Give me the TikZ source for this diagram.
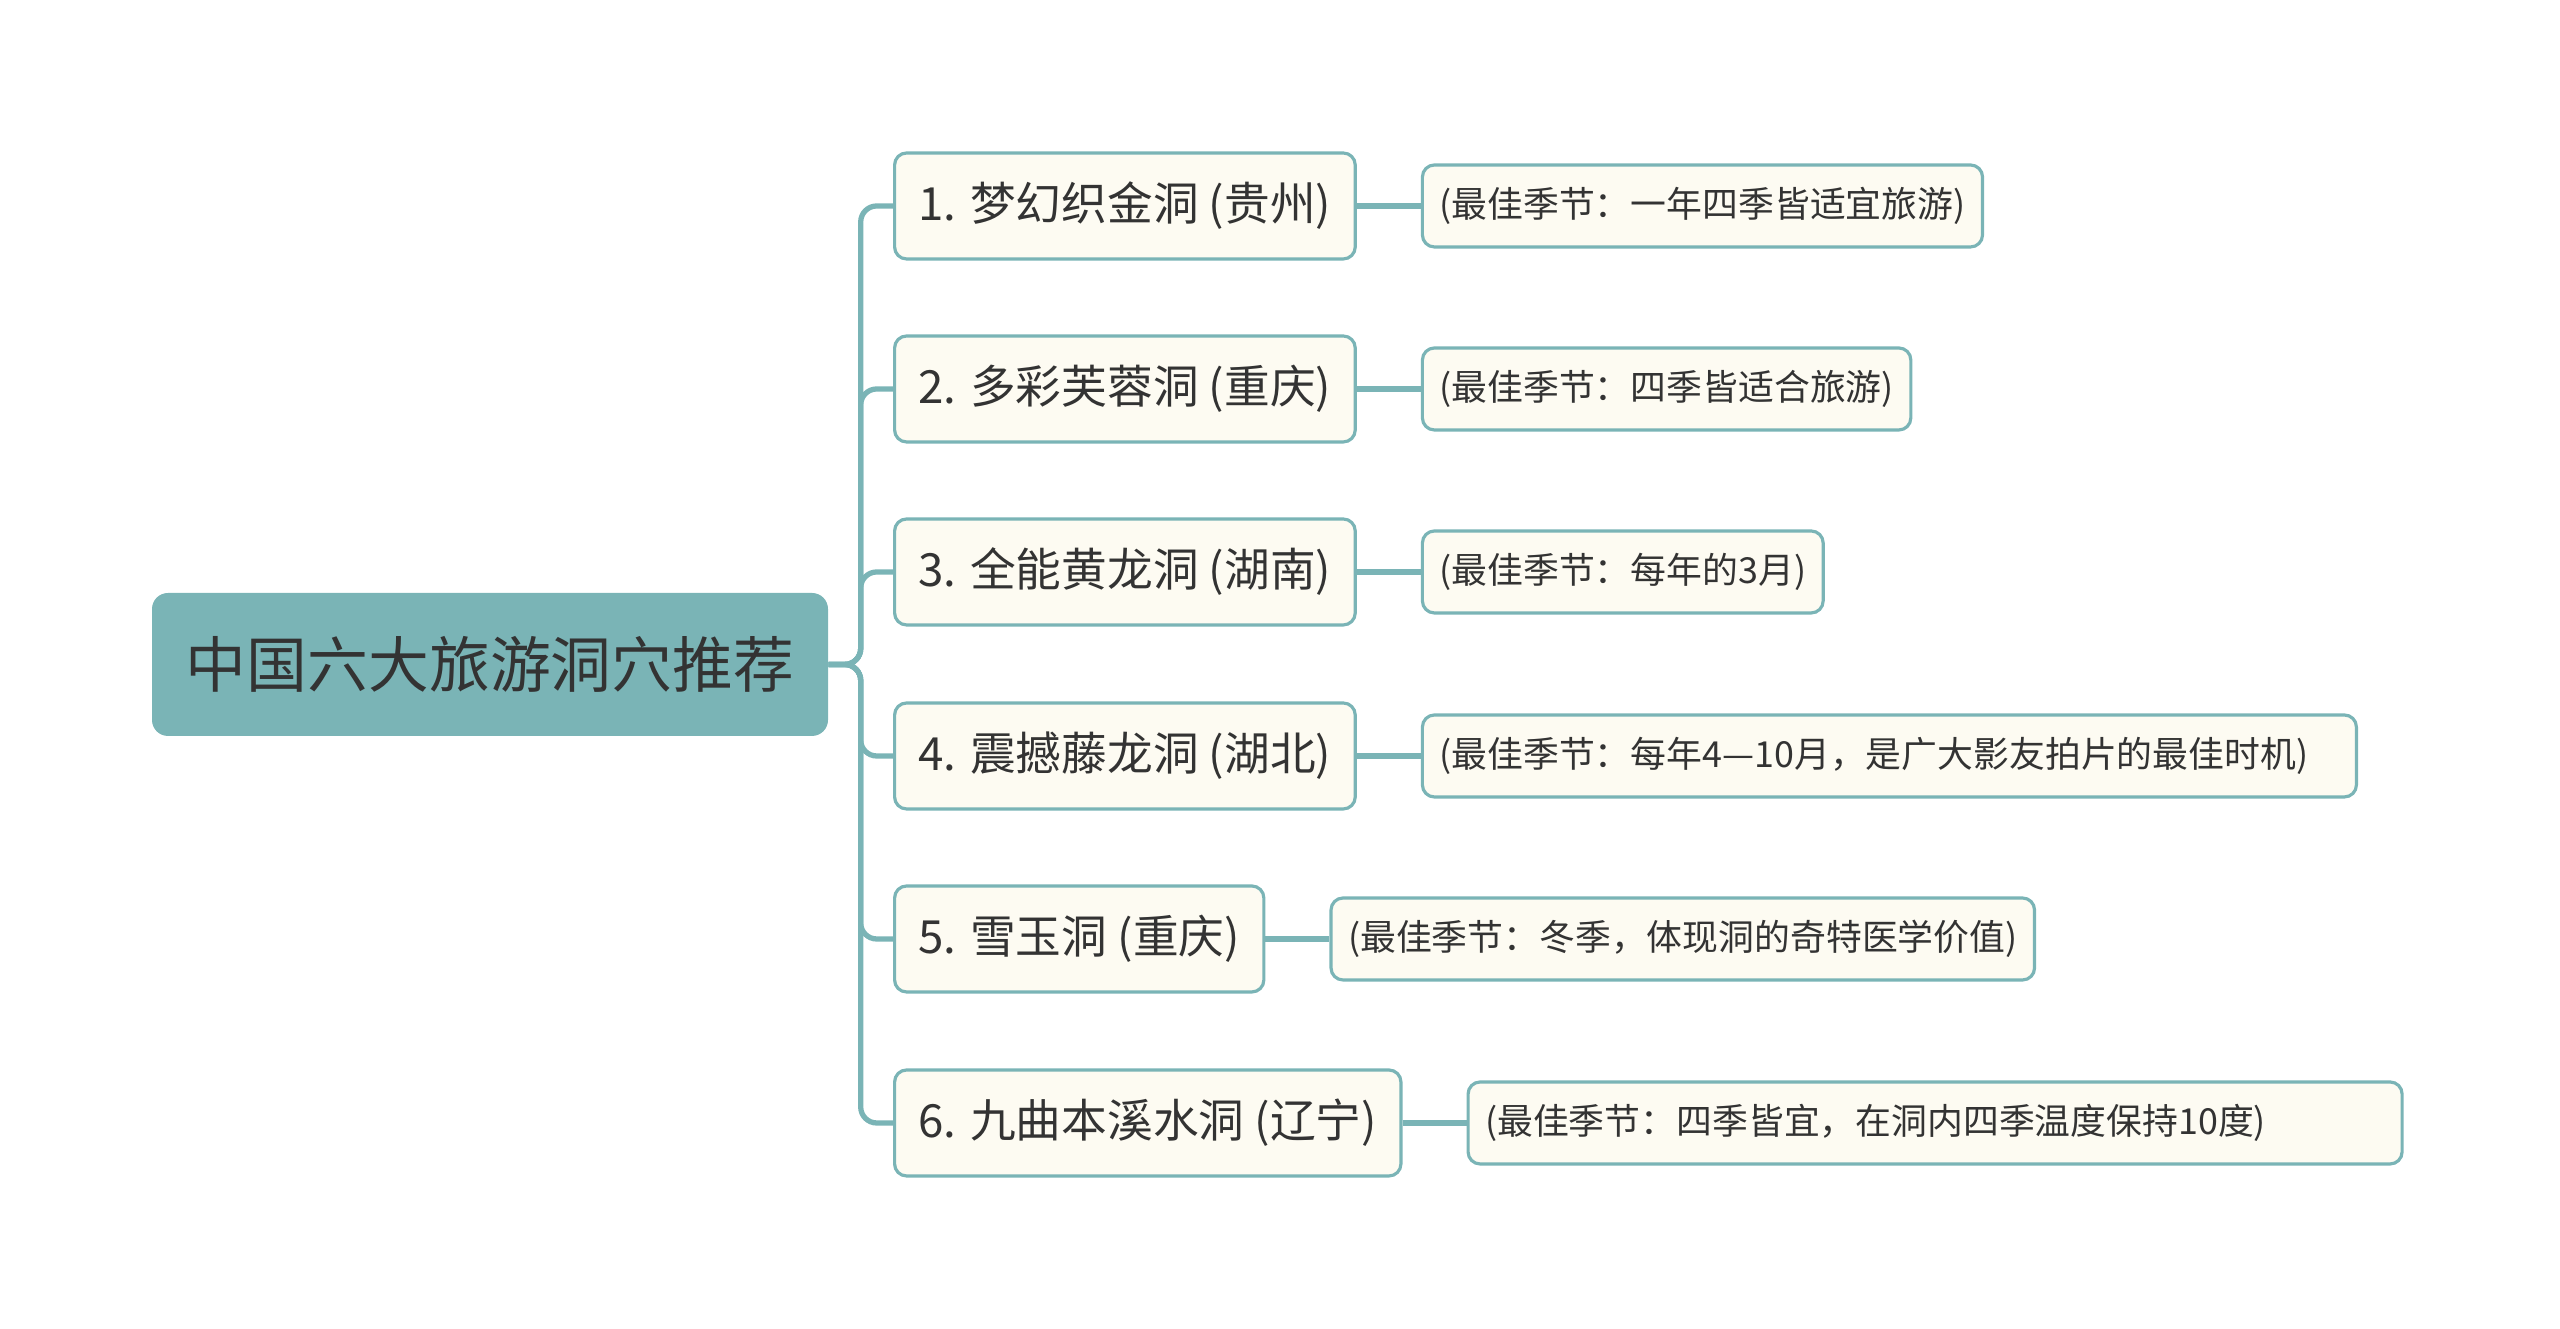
\documentclass[tikz,border=0pt]{standalone}
\usepackage{fontspec}
\setmainfont{Noto Sans CJK SC}
\usetikzlibrary{positioning}
\definecolor{tealmain}{RGB}{122,180,182}
\definecolor{creamfill}{RGB}{253,251,242}
\definecolor{inkgray}{RGB}{51,51,51}
\begin{document}
\begin{tikzpicture}[font=\fontsize{13pt}{16pt}\selectfont, text=inkgray]
	\useasboundingbox (0,0) rectangle (25.6,13.29);
	\tikzset{
		rootbox/.style={rectangle, rounded corners=0.16cm, fill=tealmain, minimum width=6.76cm, minimum height=1.43cm, inner sep=0pt, font=\fontsize{17.3pt}{21pt}\selectfont},
		cavebox/.style={rectangle, rounded corners=0.12cm, draw=tealmain, line width=0.9pt, fill=creamfill, anchor=west, minimum height=1.06cm, inner xsep=0.24cm, inner ysep=0pt},
		seasonbox/.style={rectangle, rounded corners=0.12cm, draw=tealmain, line width=0.9pt, fill=creamfill, minimum height=0.82cm, inner xsep=0.17cm, inner ysep=0pt, font=\fontsize{10.2pt}{13pt}\selectfont},
		widebox/.style={text width=9.0cm, align=left},
		branch/.style={draw=tealmain, line width=1.5pt, rounded corners=0.16cm}
	}
	\node[rootbox] (root) at (4.90, 6.645) {中国六大旅游洞穴推荐};
	% caves
	\node[cavebox] (cave1) at (8.93, 11.23) {1. 梦幻织金洞 (贵州)};
	\node[cavebox] (cave2) at (8.93, 9.40) {2. 多彩芙蓉洞 (重庆)};
	\node[cavebox] (cave3) at (8.93, 7.57) {3. 全能黄龙洞 (湖南)};
	\node[cavebox] (cave4) at (8.93, 5.73) {4. 震撼藤龙洞 (湖北)};
	\node[cavebox] (cave5) at (8.93, 3.90) {5. 雪玉洞 (重庆)};
	\node[cavebox] (cave6) at (8.93, 2.06) {6. 九曲本溪水洞 (辽宁)};
	% seasons
	\node[seasonbox, right=0.64cm of cave1] (season1) {(最佳季节：一年四季皆适宜旅游)};
	\node[seasonbox, right=0.64cm of cave2] (season2) {(最佳季节：四季皆适合旅游)};
	\node[seasonbox, right=0.64cm of cave3] (season3) {(最佳季节：每年的3月)};
	\node[seasonbox, widebox, right=0.64cm of cave4] (season4) {(最佳季节：每年4—10月，是广大影友拍片的最佳时机)};
	\node[seasonbox, right=0.64cm of cave5] (season5) {(最佳季节：冬季，体现洞的奇特医学价值)};
	\node[seasonbox, widebox, right=0.64cm of cave6] (season6) {(最佳季节：四季皆宜，在洞内四季温度保持10度)};
	\foreach \i in {1,...,6} {
		\draw[branch] (root.east) -- ++(0.32,0) |- (cave\i.west);
		\draw[branch] (cave\i.east) -- (season\i.west);
	}
\end{tikzpicture}
\end{document}
